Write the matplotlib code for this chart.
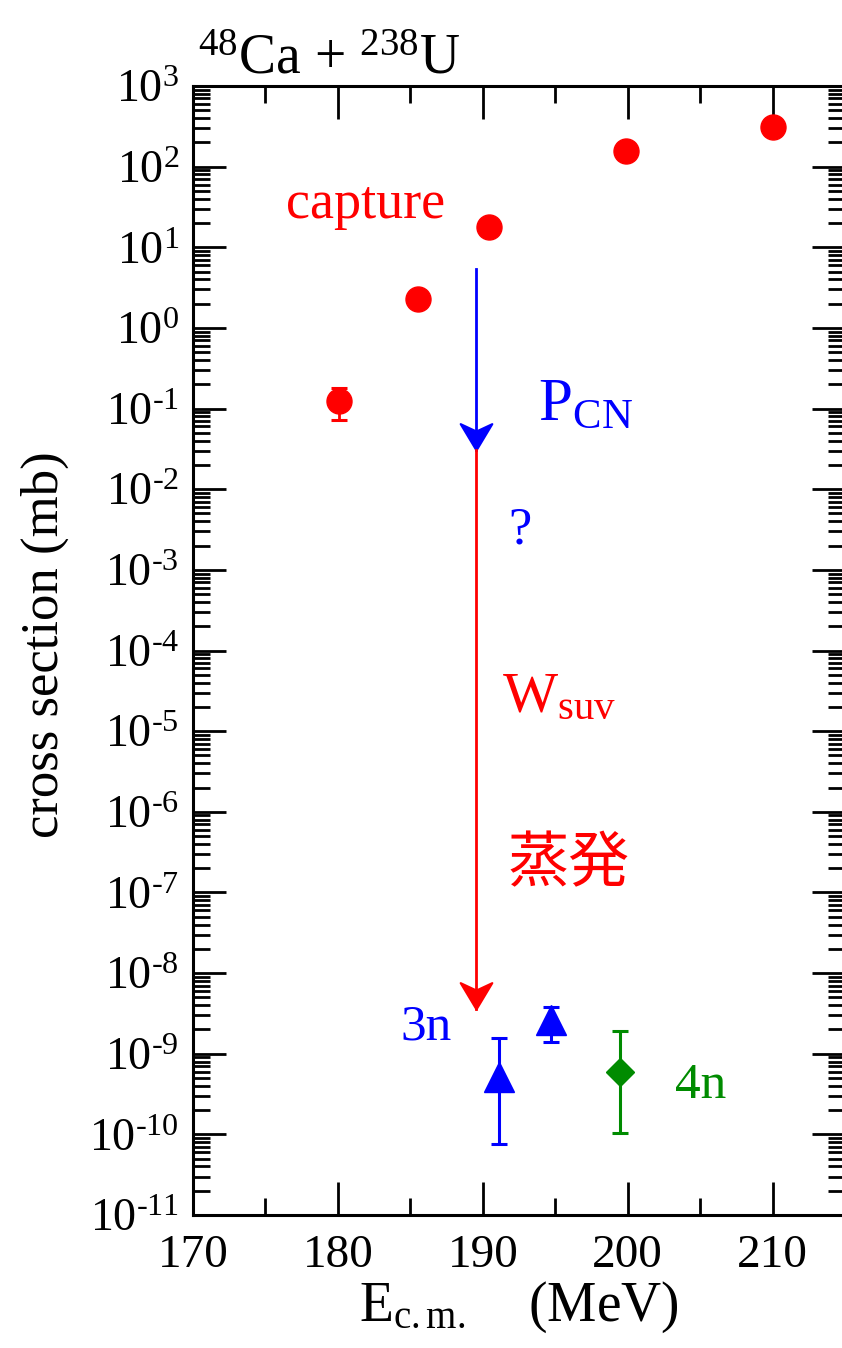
import numpy as np
import matplotlib
matplotlib.use("Agg")
import matplotlib.pyplot as plt
from matplotlib.path import Path
from matplotlib.ticker import LogLocator, MultipleLocator, FuncFormatter, NullFormatter

plt.rcParams['font.family'] = ['Liberation Serif', 'DejaVu Serif']
plt.rcParams['mathtext.fontset'] = 'custom'
plt.rcParams['mathtext.rm'] = 'Liberation Serif'
plt.rcParams['mathtext.it'] = 'Liberation Serif:italic'

RED = '#ff0000'
BLUE = '#0000ff'
GREEN = '#008b00'

# capture cross sections (mb)
e_capture = [180.1, 185.5, 190.4, 199.9, 210.0]
sig_capture = [0.123, 2.26, 17.7, 156.0, 310.0]
err_capture_lo = [0.0516, 0.0, 0.0, 0.0, 0.0]
err_capture_hi = [0.056, 0.0, 0.0, 0.0, 0.0]

# evaporation residue, 3n channel
e_3n = [191.1, 194.7]
sig_3n = [5.2e-10, 2.63e-9]
err_3n_lo = [5.2e-10 - 7.6e-11, 2.63e-9 - 1.41e-9]
err_3n_hi = [1.56e-9 - 5.2e-10, 3.83e-9 - 2.63e-9]

# evaporation residue, 4n channel
e_4n = [199.5]
sig_4n = [5.98e-10]
err_4n_lo = [5.98e-10 - 1.05e-10]
err_4n_hi = [1.93e-9 - 5.98e-10]

# arrows: capture -> compound nucleus -> residue
arrow_e = 189.53
pcn_from, pcn_to = 5.37, 0.0306
wsur_to = 3.58e-9

# notched arrow head, tip at the origin, pointing down
head = Path([(0, 0), (-0.6, 1.0), (0, 0.72), (0.6, 1.0), (0, 0)], closed=True)

fig = plt.figure(figsize=(8.42, 13.48), dpi=100)
ax = fig.add_axes([193 / 842, 1 - 1215 / 1348, 652 / 842, 1129 / 1348])

ax.errorbar(e_capture, sig_capture, yerr=[err_capture_lo, err_capture_hi], fmt='o',
            color=RED, ms=18, elinewidth=2, capsize=6, capthick=2.2)
ax.errorbar(e_3n, sig_3n, yerr=[err_3n_lo, err_3n_hi], fmt='^',
            color=BLUE, ms=21, elinewidth=2.2, capsize=6, capthick=2.2)
ax.errorbar(e_4n, sig_4n, yerr=[err_4n_lo, err_4n_hi], fmt='D',
            color=GREEN, ms=14, elinewidth=2.2, capsize=6, capthick=2.2)

ax.plot([arrow_e, arrow_e], [pcn_from, pcn_to], color=BLUE, lw=2)
ax.plot([arrow_e], [pcn_to], ls='none', marker=head, ms=38, mfc=BLUE, mec=BLUE,
        mew=1.5, fillstyle='full')
ax.plot([arrow_e, arrow_e], [pcn_to, wsur_to], color=RED, lw=2)
ax.plot([arrow_e], [wsur_to], ls='none', marker=head, ms=38, mfc=RED, mec=RED,
        mew=1.5, fillstyle='full')

ax.text(181.9, 23.1, 'capture', color=RED, fontsize=39, ha='center', va='baseline')
ax.text(193.8, 0.0721, r'P$_{\mathrm{CN}}$', color=BLUE, fontsize=44, ha='left', va='baseline')
ax.text(192.57, 2.15e-3, '?', color=BLUE, fontsize=38, ha='center', va='baseline')
ax.text(191.33, 1.73e-5, r'W$_{\mathrm{suv}}$', color=RED, fontsize=42, ha='left', va='baseline')
ax.text(191.74, 2.19e-7, '蒸発', color=RED, fontsize=44, ha='left', va='center',
        family=['Noto Sans CJK JP', 'DejaVu Sans'])
ax.text(184.29, 1.48e-9, '3n', color=BLUE, fontsize=37, ha='left', va='baseline')
ax.text(203.26, 2.82e-10, '4n', color=GREEN, fontsize=37, ha='left', va='baseline')

ax.set_yscale('log')
ax.set_xlim(170, 215)
ax.set_ylim(1e-11, 1e3)


def decade_label(v, pos):
    n = int(round(np.log10(v)))
    exp = str(n).replace('-', '\u2010')
    return r'$10^{%s}$' % exp


ax.xaxis.set_major_locator(MultipleLocator(10))
ax.xaxis.set_minor_locator(MultipleLocator(5))
ax.yaxis.set_major_locator(LogLocator(base=10, numticks=30))
ax.yaxis.set_minor_locator(LogLocator(base=10, subs=np.arange(2, 10), numticks=30))
ax.yaxis.set_major_formatter(FuncFormatter(decade_label))
ax.yaxis.set_minor_formatter(NullFormatter())

ax.tick_params(which='both', direction='in', top=True, right=True, width=2, colors='black')
ax.tick_params(which='major', length=24)
ax.tick_params(which='minor', length=12)
ax.tick_params(axis='x', which='major', labelsize=34, pad=14)
ax.tick_params(axis='y', which='major', labelsize=33, pad=10)
for sp in ax.spines.values():
    sp.set_linewidth(2.2)

ax.set_xlabel(r'E$_{\mathrm{c.m.}}$    (MeV)', fontsize=40, labelpad=2)
ax.set_ylabel('cross section (mb)', fontsize=38)
ax.yaxis.set_label_coords(-0.19, 0.505)

fig.text(198 / 842, 1 - 73 / 1348, r'$^{48}$Ca + $^{238}$U', fontsize=40, ha='left', va='baseline')

fig.savefig('out.png', dpi=100)
